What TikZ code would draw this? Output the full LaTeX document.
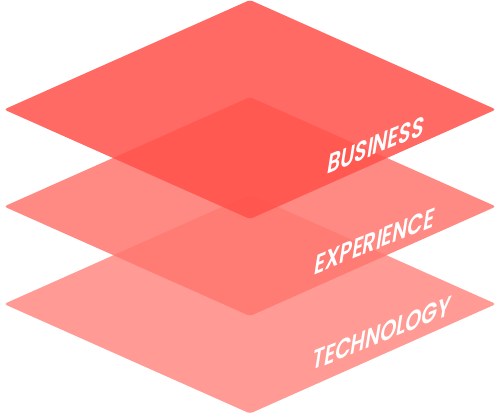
\documentclass[tikz,border=0pt]{standalone}
\usepackage{fontspec}
\setmainfont{Poppins}
\newfontfamily\tagfont{Poppins SemiBold}
\usetikzlibrary{positioning}

\definecolor{businesscol}{RGB}{255,82,74}
\definecolor{experiencecol}{RGB}{255,120,112}
\definecolor{technologycol}{RGB}{255,154,149}

\begin{document}
\begin{tikzpicture}
            [x=0.5pt, y=0.5pt,
             layer/.style={rounded corners=1.5pt},
             tag/.style={text=white, inner sep=0pt,
                         cm={0.927,0.375,0.203,1.284,(0,0)},
                         font=\tagfont\fontsize{11}{13}\selectfont}]
            \useasboundingbox (0,0) rectangle (500,414);

            % the three planes, from bottom to top
            \fill[layer, fill=technologycol, shift={(250,110)}]
                (-246,0) -- (0,-109.5) -- (246,0) -- (0,109.5) -- cycle;
            \fill[layer, fill=experiencecol, fill opacity=0.87, shift={(250,207.5)}]
                (-246,0) -- (0,-109.5) -- (246,0) -- (0,109.5) -- cycle;
            \fill[layer, fill=businesscol, fill opacity=0.86, shift={(250,304.5)}]
                (-246,0) -- (0,-109.5) -- (246,0) -- (0,109.5) -- cycle;

            \node[tag] (business) at (376,269) {BUSINESS};
            \node[tag] (experience) at (375,173) {EXPERIENCE};
            \node[tag] (technology) at (382,81) {TECHNOLOGY};
        \end{tikzpicture}
\end{document}
